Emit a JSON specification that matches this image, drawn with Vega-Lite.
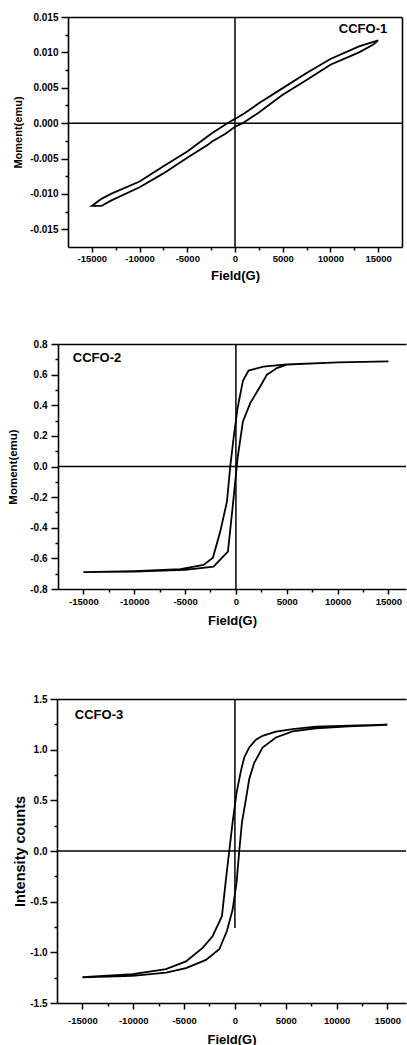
{
  "$schema": "https://vega.github.io/schema/vega-lite/v6.json",
  "background": "white",
  "padding": {"left": 7, "top": 12, "right": 0, "bottom": 0},
  "config": {
    "view": {"stroke": null},
    "axis": {
      "domainColor": "black", "domainWidth": 1.6, "tickColor": "black", "tickWidth": 1.5,
      "labelColor": "black", "labelFont": "Liberation Sans", "labelFontWeight": "bold", "labelFontSize": 9.5,
      "titleFont": "Liberation Sans", "titleFontWeight": "bold", "titleColor": "black",
      "grid": false, "labelOverlap": false, "labelFlush": false, "labelBound": false
    },
    "text": {"font": "Liberation Sans"}
  },
  "concat": [
    {
      "width": 334, "height": 230,
      "resolve": {"axis": {"x": "independent", "y": "independent"}},
      "layer": [
        {
          "data": {"values": [
            {"i":1,"H":15000,"M":0.0117},{"i":2,"H":14500,"M":0.0115},{"i":3,"H":13000,"M":0.01085},{"i":4,"H":10000,"M":0.00906},
            {"i":5,"H":7500,"M":0.0071},{"i":6,"H":5000,"M":0.00495},{"i":7,"H":2500,"M":0.0028},{"i":8,"H":1000,"M":0.0014},
            {"i":9,"H":0,"M":0.0006},{"i":10,"H":-800,"M":0.0},{"i":11,"H":-2500,"M":-0.0015},{"i":12,"H":-5000,"M":-0.004},
            {"i":13,"H":-7500,"M":-0.0061},{"i":14,"H":-10000,"M":-0.00825},{"i":15,"H":-13000,"M":-0.01},{"i":16,"H":-14000,"M":-0.0107},
            {"i":17,"H":-15000,"M":-0.0117},{"i":18,"H":-14000,"M":-0.0117},{"i":19,"H":-13000,"M":-0.01095},{"i":20,"H":-10000,"M":-0.00906},
            {"i":21,"H":-7500,"M":-0.0071},{"i":22,"H":-5000,"M":-0.0049},{"i":23,"H":-2800,"M":-0.003},{"i":24,"H":-2400,"M":-0.0026},
            {"i":25,"H":-1000,"M":-0.0015},{"i":26,"H":0,"M":-0.0005},{"i":27,"H":800,"M":0.0},{"i":28,"H":2500,"M":0.0015},
            {"i":29,"H":5000,"M":0.004},{"i":30,"H":7500,"M":0.0061},{"i":31,"H":10000,"M":0.00825},{"i":32,"H":13000,"M":0.01},
            {"i":33,"H":14500,"M":0.0111},{"i":34,"H":15000,"M":0.0117}
          ]},
          "mark": {"type": "line", "color": "black", "strokeWidth": 1.8},
          "encoding": {
            "x": {"field": "H", "type": "quantitative", "scale": {"domain": [-17500, 17500], "nice": false, "zero": false},
              "axis": {"orient": "bottom", "title": "Field(G)", "titleFontSize": 13, "titleY": 28, "titleBaseline": "middle",
                "values": [-15000,-12500,-10000,-7500,-5000,-2500,0,2500,5000,7500,10000,12500,15000],
                "labelExpr": "datum.value % 5000 === 0 ? toString(datum.value) : ''",
                "tickSize": {"condition": {"test": "datum.value % 5000 === 0", "value": 5}, "value": 3},
                "labelPadding": 1.5}},
            "y": {"field": "M", "type": "quantitative", "scale": {"domain": [-0.0175, 0.015], "nice": false, "zero": false},
              "axis": {"orient": "left", "title": "Moment(emu)", "titleFontSize": 11, "titleX": -50, "titleBaseline": "middle",
                "labelFontSize": 10,
                "values": [-0.015,-0.0125,-0.01,-0.0075,-0.005,-0.0025,0,0.0025,0.005,0.0075,0.01,0.0125,0.015],
                "labelExpr": "abs(datum.value*200 - round(datum.value*200)) < 0.001 ? replace(format(datum.value, '.3f'), '\u2212', '-') : ''",
                "tickSize": {"condition": {"test": "abs(datum.value*200 - round(datum.value*200)) < 0.001", "value": 7}, "value": 3},
                "labelPadding": 3}},
            "order": {"field": "i"}
          }
        },
        {
          "data": {"values": [{"H": 0}]},
          "mark": {"type": "rule", "color": "black", "strokeWidth": 1.5},
          "encoding": {
            "x": {"field": "H", "type": "quantitative", "scale": {"domain": [-17500, 17500], "nice": false, "zero": false},
              "axis": {"orient": "top", "title": null, "labels": false, "ticks": false}}
          }
        },
        {
          "data": {"values": [{"M": 0}]},
          "mark": {"type": "rule", "color": "black", "strokeWidth": 1.5},
          "encoding": {
            "y": {"field": "M", "type": "quantitative", "scale": {"domain": [-0.0175, 0.015], "nice": false, "zero": false},
              "axis": {"orient": "right", "title": null, "labels": false, "ticks": false}}
          }
        },
        {
          "data": {"values": [{"H": 13413, "M": 0.0133, "label": "CCFO-1"}]},
          "mark": {"type": "text", "fontSize": 13, "fontWeight": "bold", "color": "black", "align": "center", "baseline": "middle"},
          "encoding": {
            "x": {"field": "H", "type": "quantitative", "axis": null},
            "y": {"field": "M", "type": "quantitative", "axis": null},
            "text": {"field": "label"}
          }
        }
      ]
    },
    {
      "columns": 1, "spacing": 67,
      "concat": [
        {
          "width": 338, "height": 245,
          "resolve": {"axis": {"x": "independent", "y": "independent"}},
          "layer": [
            {
              "data": {"values": [
                {"i":1,"H":15000,"M":0.687},{"i":2,"H":10000,"M":0.68},{"i":3,"H":5000,"M":0.667},{"i":4,"H":2700,"M":0.652},
                {"i":5,"H":1245,"M":0.626},{"i":6,"H":690,"M":0.56},{"i":7,"H":160,"M":0.38},{"i":8,"H":-230,"M":0.185},
                {"i":9,"H":-557,"M":0.0},{"i":10,"H":-884,"M":-0.23},{"i":11,"H":-1540,"M":-0.425},{"i":12,"H":-2260,"M":-0.595},
                {"i":13,"H":-3180,"M":-0.643},{"i":14,"H":-5470,"M":-0.67},{"i":15,"H":-10000,"M":-0.683},{"i":16,"H":-15000,"M":-0.69},
                {"i":17,"H":-10000,"M":-0.686},{"i":18,"H":-5000,"M":-0.675},{"i":19,"H":-2200,"M":-0.654},{"i":20,"H":-786,"M":-0.556},
                {"i":21,"H":-230,"M":-0.207},{"i":22,"H":164,"M":0.055},{"i":23,"H":690,"M":0.294},{"i":24,"H":1410,"M":0.414},
                {"i":25,"H":2390,"M":0.523},{"i":26,"H":3050,"M":0.6},{"i":27,"H":4030,"M":0.643},{"i":28,"H":5010,"M":0.665},
                {"i":29,"H":10000,"M":0.68},{"i":30,"H":15000,"M":0.687}
              ]},
              "mark": {"type": "line", "color": "black", "strokeWidth": 1.8},
              "encoding": {
                "x": {"field": "H", "type": "quantitative", "scale": {"domain": [-17500, 16730], "range": [-10, 338], "nice": false, "zero": false},
                  "axis": {"orient": "bottom", "title": "Field(G)", "titleFontSize": 13, "titleY": 31, "titleBaseline": "middle",
                    "values": [-15000,-12500,-10000,-7500,-5000,-2500,0,2500,5000,7500,10000,12500,15000],
                    "labelExpr": "datum.value % 5000 === 0 ? toString(datum.value) : ''",
                    "tickSize": {"condition": {"test": "datum.value % 5000 === 0", "value": 5}, "value": 3},
                    "labelPadding": 2.5}},
                "y": {"field": "M", "type": "quantitative", "scale": {"domain": [-0.8, 0.8], "nice": false, "zero": false},
                  "axis": {"orient": "left", "offset": 10, "title": "Moment(emu)", "titleFontSize": 11.5, "titleX": -45, "titleBaseline": "middle",
                    "labelFontSize": 10,
                    "values": [-0.8,-0.7,-0.6,-0.5,-0.4,-0.3,-0.2,-0.1,0,0.1,0.2,0.3,0.4,0.5,0.6,0.7,0.8],
                    "labelExpr": "abs(datum.value*5 - round(datum.value*5)) < 0.001 ? replace(format(datum.value, '.1f'), '\u2212', '-') : ''",
                    "tickSize": {"condition": {"test": "abs(datum.value*5 - round(datum.value*5)) < 0.001", "value": 7}, "value": 3},
                    "labelPadding": 4}},
                "order": {"field": "i"}
              }
            },
            {
              "data": {"values": [{"H": 0}]},
              "mark": {"type": "rule", "color": "black", "strokeWidth": 1.5},
              "encoding": {
                "x": {"field": "H", "type": "quantitative", "scale": {"domain": [-17500, 16730], "range": [-10, 338], "nice": false, "zero": false},
                  "axis": {"orient": "top", "title": null, "labels": false, "ticks": false}}
              }
            },
            {
              "data": {"values": [{"H1": -17500, "H2": 16730, "M": 0}]},
              "mark": {"type": "rule", "color": "black", "strokeWidth": 1.5},
              "encoding": {
                "x": {"field": "H1", "type": "quantitative", "scale": {"domain": [-17500, 16730], "range": [-10, 338], "nice": false, "zero": false}, "axis": null},
                "x2": {"field": "H2"},
                "y": {"field": "M", "type": "quantitative", "scale": {"domain": [-0.8, 0.8], "nice": false, "zero": false}, "axis": null}
              }
            },
            {
              "data": {"values": [{"H": -13662, "M": 0.709, "label": "CCFO-2"}]},
              "mark": {"type": "text", "fontSize": 13, "fontWeight": "bold", "color": "black", "align": "center", "baseline": "middle"},
              "encoding": {
                "x": {"field": "H", "type": "quantitative", "axis": null},
                "y": {"field": "M", "type": "quantitative", "axis": null},
                "text": {"field": "label"}
              }
            }
          ]
        },
        {
          "width": 338, "height": 304,
          "resolve": {"axis": {"x": "independent", "y": "independent"}},
          "layer": [
            {
              "data": {"values": [
                {"i":1,"H":15000,"M":1.246},{"i":2,"H":11235,"M":1.236},{"i":3,"H":7960,"M":1.227},{"i":4,"H":5670,"M":1.203},
                {"i":5,"H":4030,"M":1.177},{"i":6,"H":2720,"M":1.137},{"i":7,"H":2064,"M":1.098},{"i":8,"H":1408,"M":1.022},
                {"i":9,"H":917,"M":0.923},{"i":10,"H":590,"M":0.791},{"i":11,"H":164,"M":0.577},{"i":12,"H":-230,"M":0.28},
                {"i":13,"H":-557,"M":0.0},{"i":14,"H":-884,"M":-0.28},{"i":15,"H":-1277,"M":-0.643},{"i":16,"H":-2195,"M":-0.841},
                {"i":17,"H":-3177,"M":-0.956},{"i":18,"H":-4815,"M":-1.09},{"i":19,"H":-6780,"M":-1.165},{"i":20,"H":-10055,"M":-1.215},
                {"i":21,"H":-15000,"M":-1.246},{"i":22,"H":-10055,"M":-1.232},{"i":23,"H":-6780,"M":-1.2},{"i":24,"H":-4815,"M":-1.155},
                {"i":25,"H":-2850,"M":-1.075},{"i":26,"H":-1540,"M":-0.97},{"i":27,"H":-786,"M":-0.79},{"i":28,"H":-230,"M":-0.58},
                {"i":29,"H":164,"M":-0.31},{"i":30,"H":425,"M":0.0},{"i":31,"H":688,"M":0.28},{"i":32,"H":1080,"M":0.51},
                {"i":33,"H":1408,"M":0.71},{"i":34,"H":1900,"M":0.87},{"i":35,"H":2720,"M":1.02},{"i":36,"H":4030,"M":1.12},
                {"i":37,"H":5670,"M":1.18},{"i":38,"H":7960,"M":1.21},{"i":39,"H":11235,"M":1.23},{"i":40,"H":15000,"M":1.246}
              ]},
              "mark": {"type": "line", "color": "black", "strokeWidth": 1.8},
              "encoding": {
                "x": {"field": "H", "type": "quantitative", "scale": {"domain": [-17500, 16828], "range": [-11, 338], "nice": false, "zero": false},
                  "axis": {"orient": "bottom", "title": "Field(G)", "titleFontSize": 13, "titleY": 36.5, "titleBaseline": "middle",
                    "values": [-15000,-12500,-10000,-7500,-5000,-2500,0,2500,5000,7500,10000,12500,15000],
                    "labelExpr": "datum.value % 5000 === 0 ? toString(datum.value) : ''",
                    "tickSize": {"condition": {"test": "datum.value % 5000 === 0", "value": 6}, "value": 3},
                    "labelPadding": 6}},
                "y": {"field": "M", "type": "quantitative", "scale": {"domain": [-1.5, 1.5], "nice": false, "zero": false},
                  "axis": {"orient": "left", "offset": 11, "title": "Intensity counts", "titleFontSize": 14.5, "titleX": -37, "titleBaseline": "middle",
                    "labelFontSize": 10,
                    "values": [-1.5,-1.25,-1,-0.75,-0.5,-0.25,0,0.25,0.5,0.75,1,1.25,1.5],
                    "labelExpr": "abs(datum.value*2 - round(datum.value*2)) < 0.001 ? replace(format(datum.value, '.1f'), '\u2212', '-') : ''",
                    "tickSize": {"condition": {"test": "abs(datum.value*2 - round(datum.value*2)) < 0.001", "value": 7}, "value": 3},
                    "labelPadding": 3}},
                "order": {"field": "i"}
              }
            },
            {
              "data": {"values": [{"H": 0, "M1": -0.76, "M2": 1.5}]},
              "mark": {"type": "rule", "color": "black", "strokeWidth": 1.5},
              "encoding": {
                "x": {"field": "H", "type": "quantitative", "scale": {"domain": [-17500, 16828], "range": [-11, 338], "nice": false, "zero": false},
                  "axis": {"orient": "top", "title": null, "labels": false, "ticks": false}},
                "y": {"field": "M1", "type": "quantitative", "scale": {"domain": [-1.5, 1.5], "nice": false, "zero": false}, "axis": null},
                "y2": {"field": "M2"}
              }
            },
            {
              "data": {"values": [{"H1": -17500, "H2": 16828, "M": 0}]},
              "mark": {"type": "rule", "color": "black", "strokeWidth": 1.5},
              "encoding": {
                "x": {"field": "H1", "type": "quantitative", "scale": {"domain": [-17500, 16828], "range": [-11, 338], "nice": false, "zero": false}, "axis": null},
                "x2": {"field": "H2"},
                "y": {"field": "M", "type": "quantitative", "scale": {"domain": [-1.5, 1.5], "nice": false, "zero": false}, "axis": null}
              }
            },
            {
              "data": {"values": [{"H": -13367, "M": 1.342, "label": "CCFO-3"}]},
              "mark": {"type": "text", "fontSize": 13, "fontWeight": "bold", "color": "black", "align": "center", "baseline": "middle"},
              "encoding": {
                "x": {"field": "H", "type": "quantitative", "axis": null},
                "y": {"field": "M", "type": "quantitative", "axis": null},
                "text": {"field": "label"}
              }
            }
          ]
        }
      ]
    }
  ],
  "columns": 1,
  "spacing": 57
}
